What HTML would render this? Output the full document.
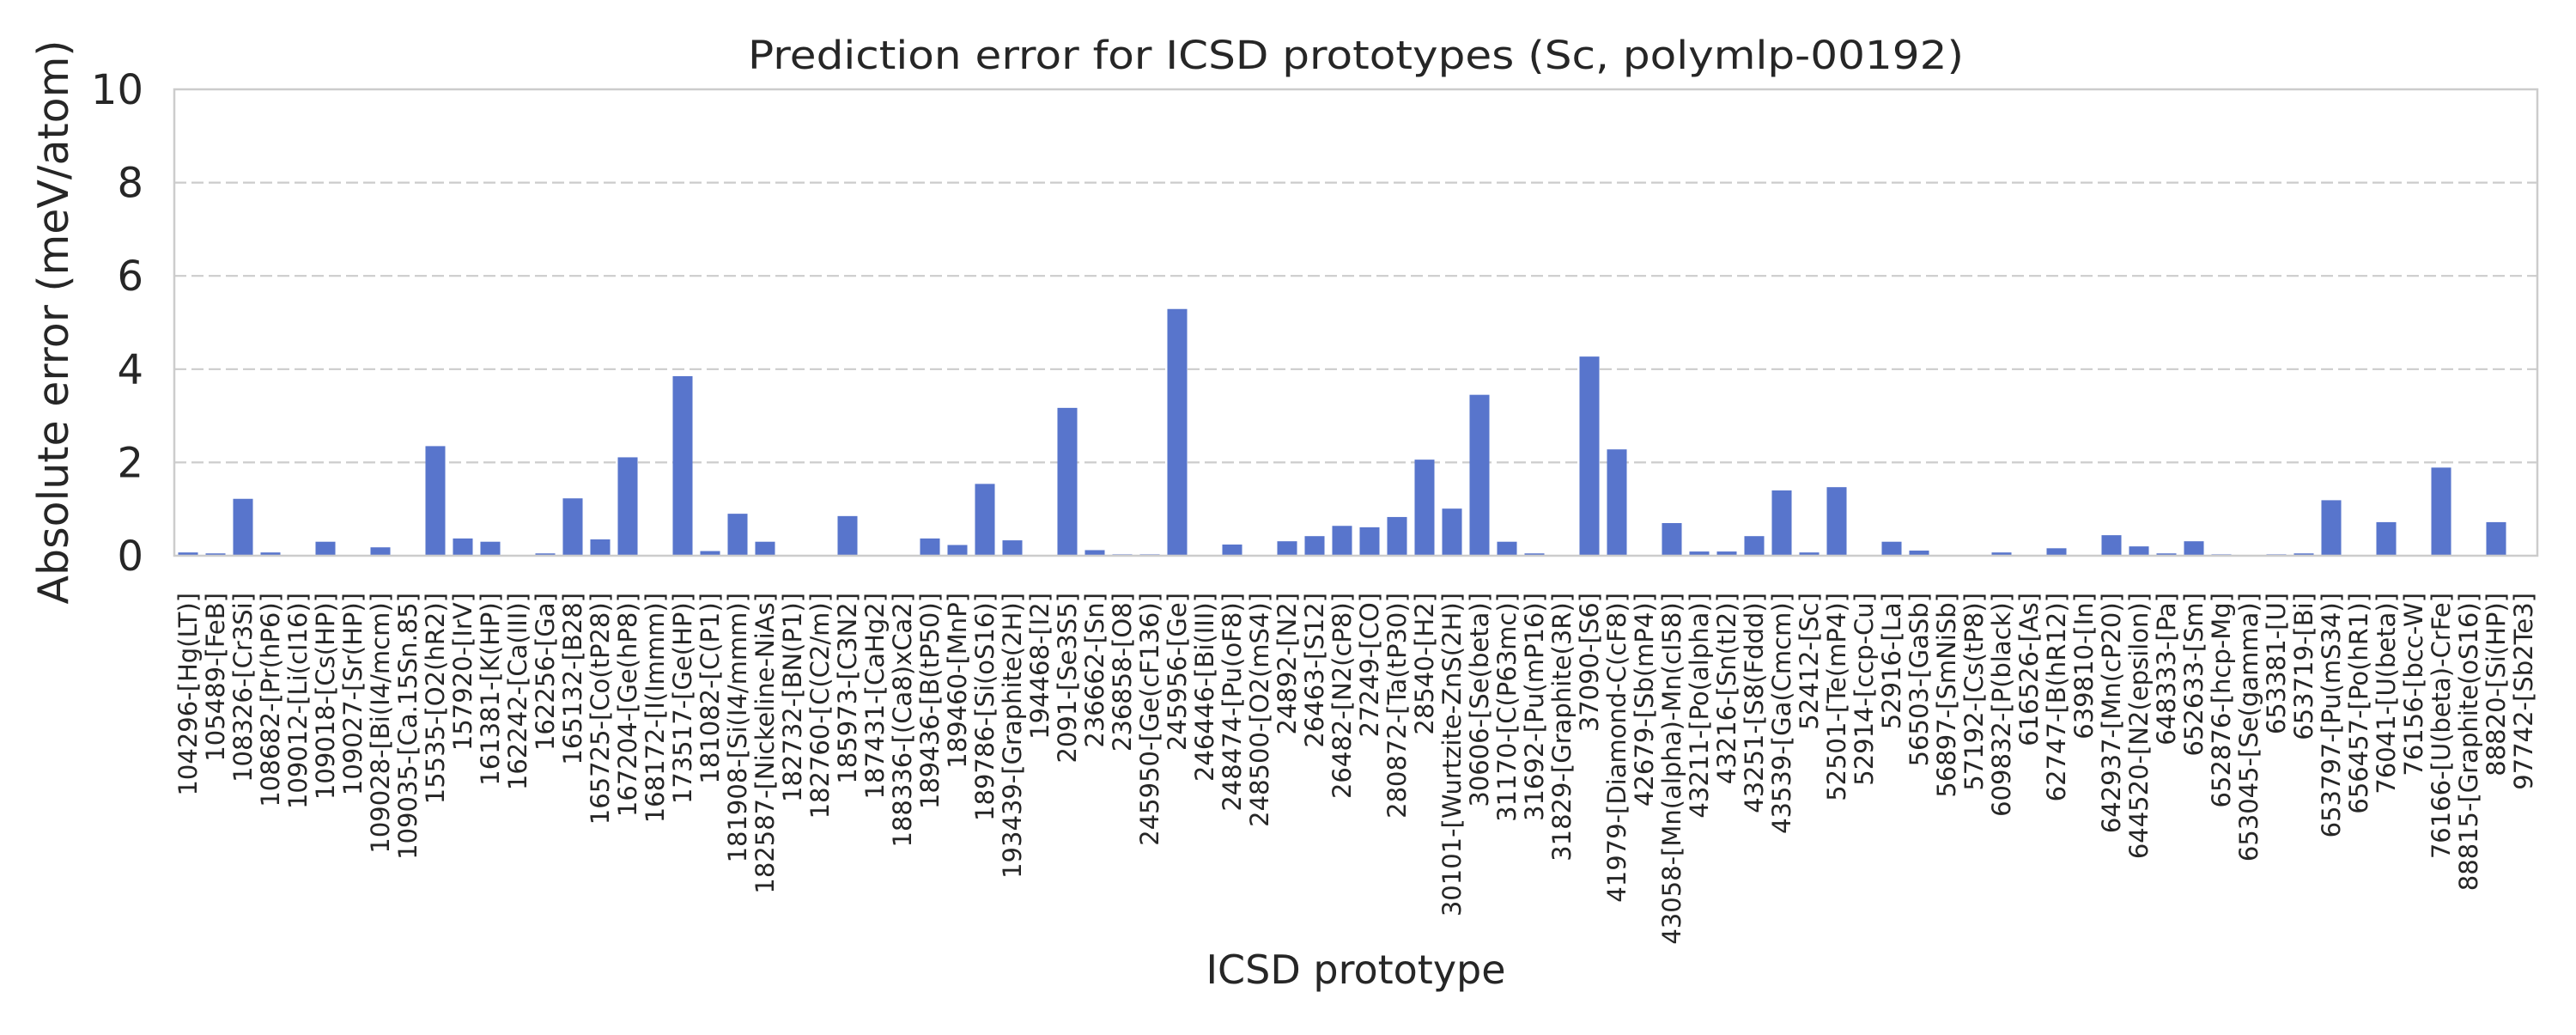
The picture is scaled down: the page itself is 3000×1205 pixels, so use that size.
<!DOCTYPE html>
<html><head><meta charset="utf-8"><style>
html,body{margin:0;padding:0;background:#fff;}
svg text{font-family:"DejaVu Sans","Liberation Sans",sans-serif;fill:#262626;}
</style></head><body>
<svg id="chart" width="3000" height="1200" viewBox="0 0 3000 1200" xmlns="http://www.w3.org/2000/svg">
<rect width="3000" height="1200" fill="#fff"/>
<text x="1579" y="80" font-size="45" text-anchor="middle" textLength="1416" lengthAdjust="spacingAndGlyphs">Prediction error for ICSD prototypes (Sc, polymlp-00192)</text>
<g id="grid"></g>
<g id="bars"></g>
<rect x="203" y="104" width="2752" height="543" fill="none" stroke="#cccccc" stroke-width="2.5"/>
<g id="yticks"></g>
<g id="xticks"></g>
<text transform="translate(79,375) rotate(-90)" font-size="49" text-anchor="middle">Absolute error (meV/atom)</text>
<text x="1579" y="1145" font-size="46" text-anchor="middle">ICSD prototype</text>
</svg>
<script>
const categories = ["104296-[Hg(LT)]","105489-[FeB]","108326-[Cr3Si]","108682-[Pr(hP6)]","109012-[Li(cI16)]","109018-[Cs(HP)]","109027-[Sr(HP)]","109028-[Bi(I4/mcm)]","109035-[Ca.15Sn.85]","15535-[O2(hR2)]","157920-[IrV]","161381-[K(HP)]","162242-[Ca(III)]","162256-[Ga]","165132-[B28]","165725-[Co(tP28)]","167204-[Ge(hP8)]","168172-[I(Immm)]","173517-[Ge(HP)]","181082-[C(P1)]","181908-[Si(I4/mmm)]","182587-[Nickeline-NiAs]","182732-[BN(P1)]","182760-[C(C2/m)]","185973-[C3N2]","187431-[CaHg2]","188336-[(Ca8)xCa2]","189436-[B(tP50)]","189460-[MnP]","189786-[Si(oS16)]","193439-[Graphite(2H)]","194468-[I2]","2091-[Se3S5]","236662-[Sn]","236858-[O8]","245950-[Ge(cF136)]","245956-[Ge]","246446-[Bi(III)]","248474-[Pu(oF8)]","248500-[O2(mS4)]","24892-[N2]","26463-[S12]","26482-[N2(cP8)]","27249-[CO]","280872-[Ta(tP30)]","28540-[H2]","30101-[Wurtzite-ZnS(2H)]","30606-[Se(beta)]","31170-[C(P63mc)]","31692-[Pu(mP16)]","31829-[Graphite(3R)]","37090-[S6]","41979-[Diamond-C(cF8)]","42679-[Sb(mP4)]","43058-[Mn(alpha)-Mn(cI58)]","43211-[Po(alpha)]","43216-[Sn(tI2)]","43251-[S8(Fddd)]","43539-[Ga(Cmcm)]","52412-[Sc]","52501-[Te(mP4)]","52914-[ccp-Cu]","52916-[La]","56503-[GaSb]","56897-[SmNiSb]","57192-[Cs(tP8)]","609832-[P(black)]","616526-[As]","62747-[B(hR12)]","639810-[In]","642937-[Mn(cP20)]","644520-[N2(epsilon)]","648333-[Pa]","652633-[Sm]","652876-[hcp-Mg]","653045-[Se(gamma)]","653381-[U]","653719-[Bi]","653797-[Pu(mS34)]","656457-[Po(hR1)]","76041-[U(beta)]","76156-[bcc-W]","76166-[U(beta)-CrFe]","88815-[Graphite(oS16)]","88820-[Si(HP)]","97742-[Sb2Te3]"];
const errors = [0.07,0.05,1.22,0.07,0,0.30,0,0.18,0,2.35,0.37,0.30,0,0.05,1.23,0.35,2.11,0,3.85,0.10,0.90,0.30,0,0,0.85,0,0,0.37,0.23,1.54,0.33,0,3.17,0.12,0.03,0.03,5.29,0,0.24,0,0.31,0.42,0.64,0.61,0.83,2.06,1.01,3.45,0.30,0.05,0,4.27,2.28,0,0.70,0.09,0.09,0.42,1.40,0.07,1.47,0,0.30,0.11,0,0,0.07,0,0.16,0,0.44,0.20,0.05,0.31,0.03,0,0.03,0.05,1.19,0,0.72,0,1.89,0,0.72,0];
const yTicks = [0,2,4,6,8,10];
const gridTicks = [2,4,6,8];

const NS = "http://www.w3.org/2000/svg";
const X0 = 203, X1 = 2955, Y0 = 647, Y1 = 104, YMAX = 10;
const band = (X1 - X0) / categories.length;
function xCenter(i){ return X0 + band * (i + 0.5); }
function yScale(v){ return Y0 - (v / YMAX) * (Y0 - Y1); }
function mk(tag, attrs, parent){ const e = document.createElementNS(NS, tag); for (const k in attrs) e.setAttribute(k, attrs[k]); parent.appendChild(e); return e; }

const grid = document.getElementById('grid');
gridTicks.forEach(t => {
  const l = mk('line', {x1: X0, x2: X1, y1: yScale(t), y2: yScale(t), stroke: '#cccccc', 'stroke-width': 2.2, 'stroke-dasharray': '14,6'}, grid);
  
  
});

const yt = document.getElementById('yticks');
yTicks.forEach(t => {
  const tx = mk('text', {x: 167, y: yScale(t) + 17, 'font-size': 48, 'text-anchor': 'end'}, yt);
  tx.textContent = String(t);
  
  
});

const bars = document.getElementById('bars');
const bw = band * 0.72;
errors.forEach((v, i) => {
  const y = yScale(v);
  const r = mk('rect', {x: xCenter(i) - bw / 2, y: y, width: bw, height: Math.max(0, Y0 - y), fill: '#5875cc'}, bars);
  
  
});

const xt = document.getElementById('xticks');
categories.forEach((c, i) => {
  const tx = mk('text', {transform: 'translate(' + (xCenter(i) + 10) + ',690) rotate(-90)', 'font-size': 29, 'text-anchor': 'end'}, xt);
  tx.textContent = c;
  
  
});
</script>
</body></html>
